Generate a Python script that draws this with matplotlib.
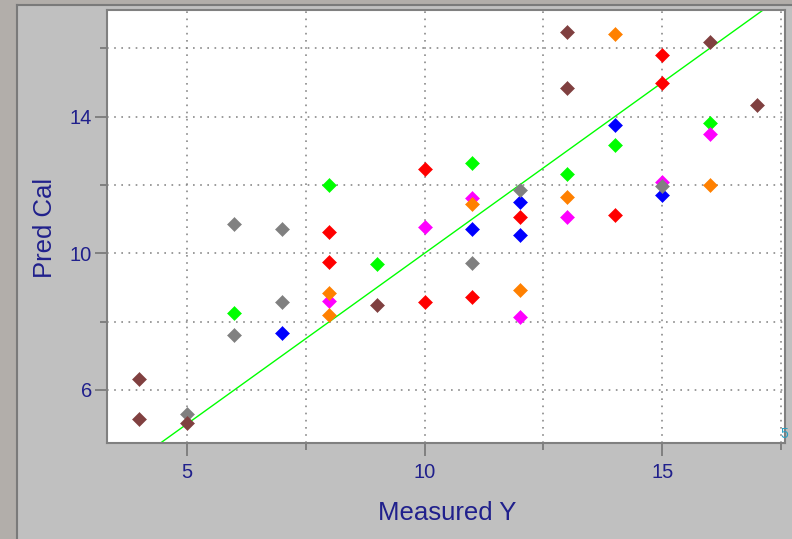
import matplotlib
matplotlib.use("Agg")
import matplotlib.pyplot as plt
from matplotlib.patches import Rectangle
from matplotlib.lines import Line2D
from matplotlib.ticker import FixedLocator

# ---- data ----
red_x = [8, 8, 10, 10, 11, 12, 14, 15, 15]
red_y = [10.63, 9.74, 12.48, 8.58, 8.72, 11.07, 11.11, 15.81, 14.98]
green_x = [6, 8, 9, 11, 13, 14, 16]
green_y = [8.24, 11.99, 9.69, 12.64, 12.32, 13.17, 13.82]
blue_x = [7, 11, 12, 12, 14, 15]
blue_y = [7.68, 10.72, 11.51, 10.53, 13.76, 11.72]
magenta_x = [8, 10, 11, 12, 13, 15, 16]
magenta_y = [8.61, 10.77, 11.61, 8.13, 11.06, 12.08, 13.50]
orange_x = [8, 8, 11, 12, 13, 14, 16]
orange_y = [8.83, 8.19, 11.45, 8.92, 11.66, 16.41, 12.00]
gray_x = [5, 6, 6, 7, 7, 11, 12, 15]
gray_y = [5.31, 10.87, 7.60, 10.72, 8.58, 9.73, 11.86, 11.96]
brown_x = [4, 4, 5, 9, 13, 13, 16, 17]
brown_y = [6.32, 5.14, 5.03, 8.48, 16.49, 14.84, 16.17, 14.34]

series = [
    (red_x, red_y, "#ff0000"),
    (green_x, green_y, "#00ff00"),
    (blue_x, blue_y, "#0000ff"),
    (magenta_x, magenta_y, "#ff00ff"),
    (orange_x, orange_y, "#ff8000"),
    (gray_x, gray_y, "#808080"),
    (brown_x, brown_y, "#804040"),
]

x_major = [5, 10, 15]
x_minor = [7.5, 12.5, 17.5]
y_major = [6, 10, 14]
y_minor = [8, 12, 16]
xlim = (3.33, 17.58)
ylim = (4.44, 17.12)

navy = "#20208c"
plt.rcParams["font.family"] = ["Liberation Sans", "DejaVu Sans"]

W, H = 792, 539
fig = plt.figure(figsize=(W / 100, H / 100), dpi=100)
fig.patch.set_facecolor("#b2aeaa")

# grey panel with border
fig.patches.append(Rectangle((16 / W, 0), 1 - 16 / W, 1 - 4 / H, transform=fig.transFigure,
                             facecolor="#c0c0c0", edgecolor="none", zorder=-10))
fig.lines.append(Line2D([17 / W, 17 / W], [0, 1 - 5 / H], transform=fig.transFigure,
                        color="#7a7a7a", lw=1.5, zorder=-9))
fig.lines.append(Line2D([17 / W, 1], [1 - 5 / H, 1 - 5 / H], transform=fig.transFigure,
                        color="#7a7a7a", lw=1.5, zorder=-9))

ax = fig.add_axes([107.3 / W, 1 - 443.3 / H, (785 - 107.3) / W, (443.3 - 10) / H])
ax.set_zorder(1)
ax.set_facecolor("white")
ax.set_xlim(*xlim)
ax.set_ylim(*ylim)

ax.plot([xlim[0], xlim[1]], [xlim[0], xlim[1]], color="#00ff00", lw=1.0, zorder=2)

for xs, ys, c in series:
    ax.plot(xs, ys, linestyle="none", marker="D", markersize=7.6, color=c,
            markeredgewidth=0.4, markeredgecolor=c, zorder=3)

ax.xaxis.set_major_locator(FixedLocator(x_major))
ax.xaxis.set_minor_locator(FixedLocator(x_minor))
ax.yaxis.set_major_locator(FixedLocator(y_major))
ax.yaxis.set_minor_locator(FixedLocator(y_minor))
ax.set_xticklabels([str(v) for v in x_major])
ax.set_yticklabels([str(v) for v in y_major])

ax.grid(True, which="both", linestyle=(0, (1, 3.3)), color="#8a8a8a", lw=1.2)
ax.set_axisbelow(True)

ax.tick_params(axis="both", which="major", length=9, width=1.4, color="#808080",
               labelcolor=navy, labelsize=14.5, direction="out")
ax.tick_params(axis="both", which="minor", length=5, width=1.4, color="#808080",
               direction="out")
ax.tick_params(axis="x", which="major", pad=5)
ax.tick_params(axis="y", which="major", pad=2)

for s in ax.spines.values():
    s.set_color("#808080")
    s.set_linewidth(1.5)

fig.text(447 / W, 1 - 513 / H, "Measured Y", color=navy, fontsize=18.5,
         ha="center", va="center")
fig.text(45 / W, 1 - 228 / H, "Pred Cal", color=navy, fontsize=18.5,
         ha="center", va="center", rotation=90)
fig.text(784 / W, 1 - 434 / H, "5", color="#2a9fc0", fontsize=10,
         ha="center", va="center", zorder=5)

fig.savefig("out.png", dpi=100, facecolor=fig.get_facecolor())
